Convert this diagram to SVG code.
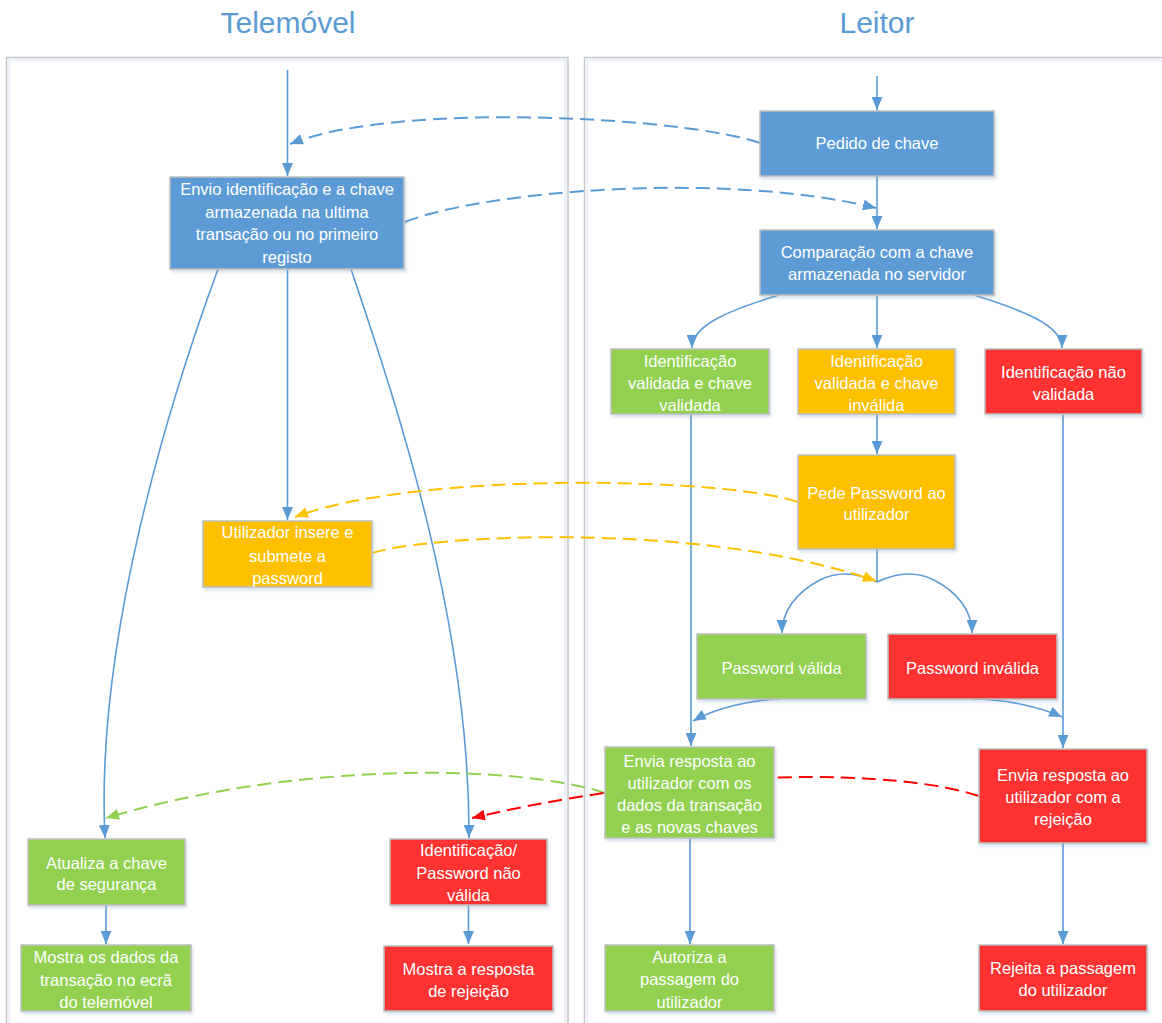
<svg xmlns="http://www.w3.org/2000/svg" width="1162" height="1023" viewBox="0 0 1162 1023">
  <style>
    .title { font-family: "Liberation Sans", Arial, sans-serif; font-size: 30px; fill: #5B9BD5; text-anchor: middle; }
    .lane { fill: #FFFFFF; stroke: #C6C6C6; stroke-width: 1.5; }
    .lane-in { fill: none; stroke: #EEF3FA; stroke-width: 3; }
    .box { stroke: #BFBFBF; stroke-width: 1.5; filter: url(#shadow); }
    .blue { fill: #5B9BD5; }
    .green { fill: #92D050; }
    .orange { fill: #FFC000; }
    .red { fill: #FF3333; }
    .label { font-family: "Liberation Sans", Arial, sans-serif; font-size: 16.5px; fill: #FFFFFF; text-anchor: middle; }
    .flow { fill: none; stroke: #5B9BD5; stroke-width: 1.6; marker-end: url(#arrow-blue); }
    .msg { fill: none; stroke-width: 2; stroke-dasharray: 14 7; }
    .msg-blue { stroke: #5B9BD5; marker-end: url(#arrow-blue); }
    .msg-orange { stroke: #FFC000; marker-end: url(#arrow-orange); }
    .msg-green { stroke: #92D050; marker-end: url(#arrow-green); }
    .msg-red { stroke: #FF0000; marker-end: url(#arrow-red); }
  </style>
  <defs>
    <filter id="shadow" x="-10%" y="-10%" width="125%" height="130%">
      <feDropShadow dx="1.5" dy="2.5" stdDeviation="1.5" flood-color="#8FA8C8" flood-opacity="0.35"/>
    </filter>
    <marker id="arrow-blue" viewBox="0 0 12 10" refX="12" refY="5" markerWidth="13" markerHeight="11" markerUnits="userSpaceOnUse" orient="auto">
      <path d="M0,0 L12,5 L0,10 z" fill="#5B9BD5"/>
    </marker>
    <marker id="arrow-orange" viewBox="0 0 12 10" refX="12" refY="5" markerWidth="13" markerHeight="11" markerUnits="userSpaceOnUse" orient="auto">
      <path d="M0,0 L12,5 L0,10 z" fill="#FFC000"/>
    </marker>
    <marker id="arrow-green" viewBox="0 0 12 10" refX="12" refY="5" markerWidth="13" markerHeight="11" markerUnits="userSpaceOnUse" orient="auto">
      <path d="M0,0 L12,5 L0,10 z" fill="#92D050"/>
    </marker>
    <marker id="arrow-red" viewBox="0 0 12 10" refX="12" refY="5" markerWidth="13" markerHeight="11" markerUnits="userSpaceOnUse" orient="auto">
      <path d="M0,0 L12,5 L0,10 z" fill="#FF0000"/>
    </marker>
  </defs>

  <rect width="1162" height="1023" fill="#FFFFFF"/>

  <!-- swimlanes -->
  <g id="lanes">
    <text class="title" x="288" y="33">Telemóvel</text>
    <text class="title" x="877" y="33">Leitor</text>
    <rect class="lane" x="6.5" y="57.5" width="561.5" height="1000"/>
    <rect class="lane-in" x="9" y="60" width="556.5" height="1000"/>
    <rect class="lane" x="584.5" y="57.5" width="620" height="1000"/>
    <rect class="lane-in" x="587" y="60" width="620" height="1000"/>
  </g>

  <!-- connectors -->
  <g id="connectors">
    <!-- Leitor flow -->
    <path class="flow" d="M877,76 L877,110"/>
    <path class="flow" d="M877,176 L877,229"/>
    <path class="flow" d="M779,295 C730,310 692,325 692,348"/>
    <path class="flow" d="M877,295 L877,348"/>
    <path class="flow" d="M974,295 C1022,310 1062,325 1062,348"/>
    <path class="flow" d="M877,414 L877,454"/>
    <path fill="none" stroke="#5B9BD5" stroke-width="1.6" d="M877,549 L877,582"/>
    <path class="flow" d="M877,582 C860,574 840,570 820,580 C795,593 782,612 782,633"/>
    <path class="flow" d="M877,582 C894,574 914,570 934,580 C959,593 972,612 972,633"/>
    <path class="flow" d="M691,414 L691,746"/>
    <path class="flow" d="M1063,414 L1063,748"/>
    <path class="flow" d="M780,699 C750,700 716,708 693,721"/>
    <path class="flow" d="M973,699 C1005,699 1040,707 1062,717"/>
    <path class="flow" d="M690,838 L690,944"/>
    <path class="flow" d="M1063,843 L1063,944"/>

    <!-- Telemóvel flow -->
    <path class="flow" d="M287.5,70 L287.5,176"/>
    <path class="flow" d="M287.5,269 L287.5,520"/>
    <path class="flow" d="M218,269 C170,400 95,640 105,838"/>
    <path class="flow" d="M351,269 C395,400 470,620 469,838"/>
    <path class="flow" d="M106,905 L106,944"/>
    <path class="flow" d="M468.5,905 L468.5,944"/>

    <!-- messages between lanes -->
    <path class="msg msg-blue" d="M760,143 C690,118 400,100 290,144"/>
    <path class="msg msg-blue" d="M405,222 C480,192 720,170 876,208"/>
    <path class="msg msg-orange" d="M798,502 C730,478 420,470 295,517"/>
    <path class="msg msg-orange" d="M372,553 C430,535 700,520 876,581"/>
    <path class="msg msg-green" d="M605,793 C520,765 300,760 106,818"/>
    <path class="msg msg-red" d="M979,796 C900,770 700,765 472,818"/>
  </g>

  <!-- Leitor nodes -->
  <g id="pedido-chave">
    <rect class="box blue" x="760" y="111" width="234" height="65"/>
    <text class="label" x="877" y="149">Pedido de chave</text>
  </g>
  <g id="comparacao-chave">
    <rect class="box blue" x="760" y="230" width="234" height="65"/>
    <text class="label" x="877" y="257.5">Comparação com a chave</text>
    <text class="label" x="877" y="280">armazenada no servidor</text>
  </g>
  <g id="id-valida-chave-valida">
    <rect class="box green" x="611" y="349" width="158" height="65"/>
    <text class="label" x="690" y="366.5">Identificação</text>
    <text class="label" x="690" y="388.5">validada e chave</text>
    <text class="label" x="690" y="411">validada</text>
  </g>
  <g id="id-valida-chave-invalida">
    <rect class="box orange" x="798" y="349" width="157" height="65"/>
    <text class="label" x="876.5" y="366.5">Identificação</text>
    <text class="label" x="876.5" y="388.5">validada e chave</text>
    <text class="label" x="876.5" y="411">inválida</text>
  </g>
  <g id="id-nao-validada">
    <rect class="box red" x="985" y="349" width="157" height="65"/>
    <text class="label" x="1063.5" y="377.5">Identificação não</text>
    <text class="label" x="1063.5" y="399.5">validada</text>
  </g>
  <g id="pede-password">
    <rect class="box orange" x="798" y="455" width="157" height="94"/>
    <text class="label" x="876.5" y="498.5">Pede Password ao</text>
    <text class="label" x="876.5" y="520">utilizador</text>
  </g>
  <g id="password-valida">
    <rect class="box green" x="697" y="634" width="169" height="65"/>
    <text class="label" x="781.5" y="673.5">Password válida</text>
  </g>
  <g id="password-invalida">
    <rect class="box red" x="888" y="634" width="169" height="65"/>
    <text class="label" x="972.5" y="673.5">Password inválida</text>
  </g>
  <g id="envia-resposta-ok">
    <rect class="box green" x="605" y="747" width="169" height="91"/>
    <text class="label" x="689.5" y="766.5">Envia resposta ao</text>
    <text class="label" x="689.5" y="788.5">utilizador com os</text>
    <text class="label" x="689.5" y="811">dados da transação</text>
    <text class="label" x="689.5" y="833">e as novas chaves</text>
  </g>
  <g id="envia-resposta-rejeicao">
    <rect class="box red" x="979" y="749" width="168" height="94"/>
    <text class="label" x="1063" y="780.5">Envia resposta ao</text>
    <text class="label" x="1063" y="803">utilizador com a</text>
    <text class="label" x="1063" y="825">rejeição</text>
  </g>
  <g id="autoriza-passagem">
    <rect class="box green" x="605" y="945" width="169" height="66"/>
    <text class="label" x="689.5" y="963">Autoriza a</text>
    <text class="label" x="689.5" y="985">passagem do</text>
    <text class="label" x="689.5" y="1007.5">utilizador</text>
  </g>
  <g id="rejeita-passagem">
    <rect class="box red" x="979" y="945" width="168" height="66"/>
    <text class="label" x="1063" y="974">Rejeita a passagem</text>
    <text class="label" x="1063" y="996">do utilizador</text>
  </g>

  <!-- Telemóvel nodes -->
  <g id="envio-identificacao">
    <rect class="box blue" x="170" y="177" width="234" height="92"/>
    <text class="label" x="287" y="195">Envio identificação e a chave</text>
    <text class="label" x="287" y="217.5">armazenada na ultima</text>
    <text class="label" x="287" y="240">transação ou no primeiro</text>
    <text class="label" x="287" y="262.5">registo</text>
  </g>
  <g id="utilizador-password">
    <rect class="box orange" x="203" y="521" width="169" height="66"/>
    <text class="label" x="287.5" y="538">Utilizador insere e</text>
    <text class="label" x="287.5" y="561.5">submete a</text>
    <text class="label" x="287.5" y="583.5">password</text>
  </g>
  <g id="atualiza-chave">
    <rect class="box green" x="28" y="839" width="157" height="66"/>
    <text class="label" x="106.5" y="868.5">Atualiza a chave</text>
    <text class="label" x="106.5" y="890">de segurança</text>
  </g>
  <g id="mostra-dados">
    <rect class="box green" x="21" y="945" width="170" height="66"/>
    <text class="label" x="106" y="963">Mostra os dados da</text>
    <text class="label" x="106" y="985.5">transação no ecrã</text>
    <text class="label" x="106" y="1008">do telemóvel</text>
  </g>
  <g id="id-password-invalida">
    <rect class="box red" x="390" y="839" width="157" height="66"/>
    <text class="label" x="468.5" y="856">Identificação/</text>
    <text class="label" x="468.5" y="879">Password não</text>
    <text class="label" x="468.5" y="901">válida</text>
  </g>
  <g id="mostra-rejeicao">
    <rect class="box red" x="384" y="946" width="169" height="65"/>
    <text class="label" x="468.5" y="974.5">Mostra a resposta</text>
    <text class="label" x="468.5" y="996.5">de rejeição</text>
  </g>
</svg>
